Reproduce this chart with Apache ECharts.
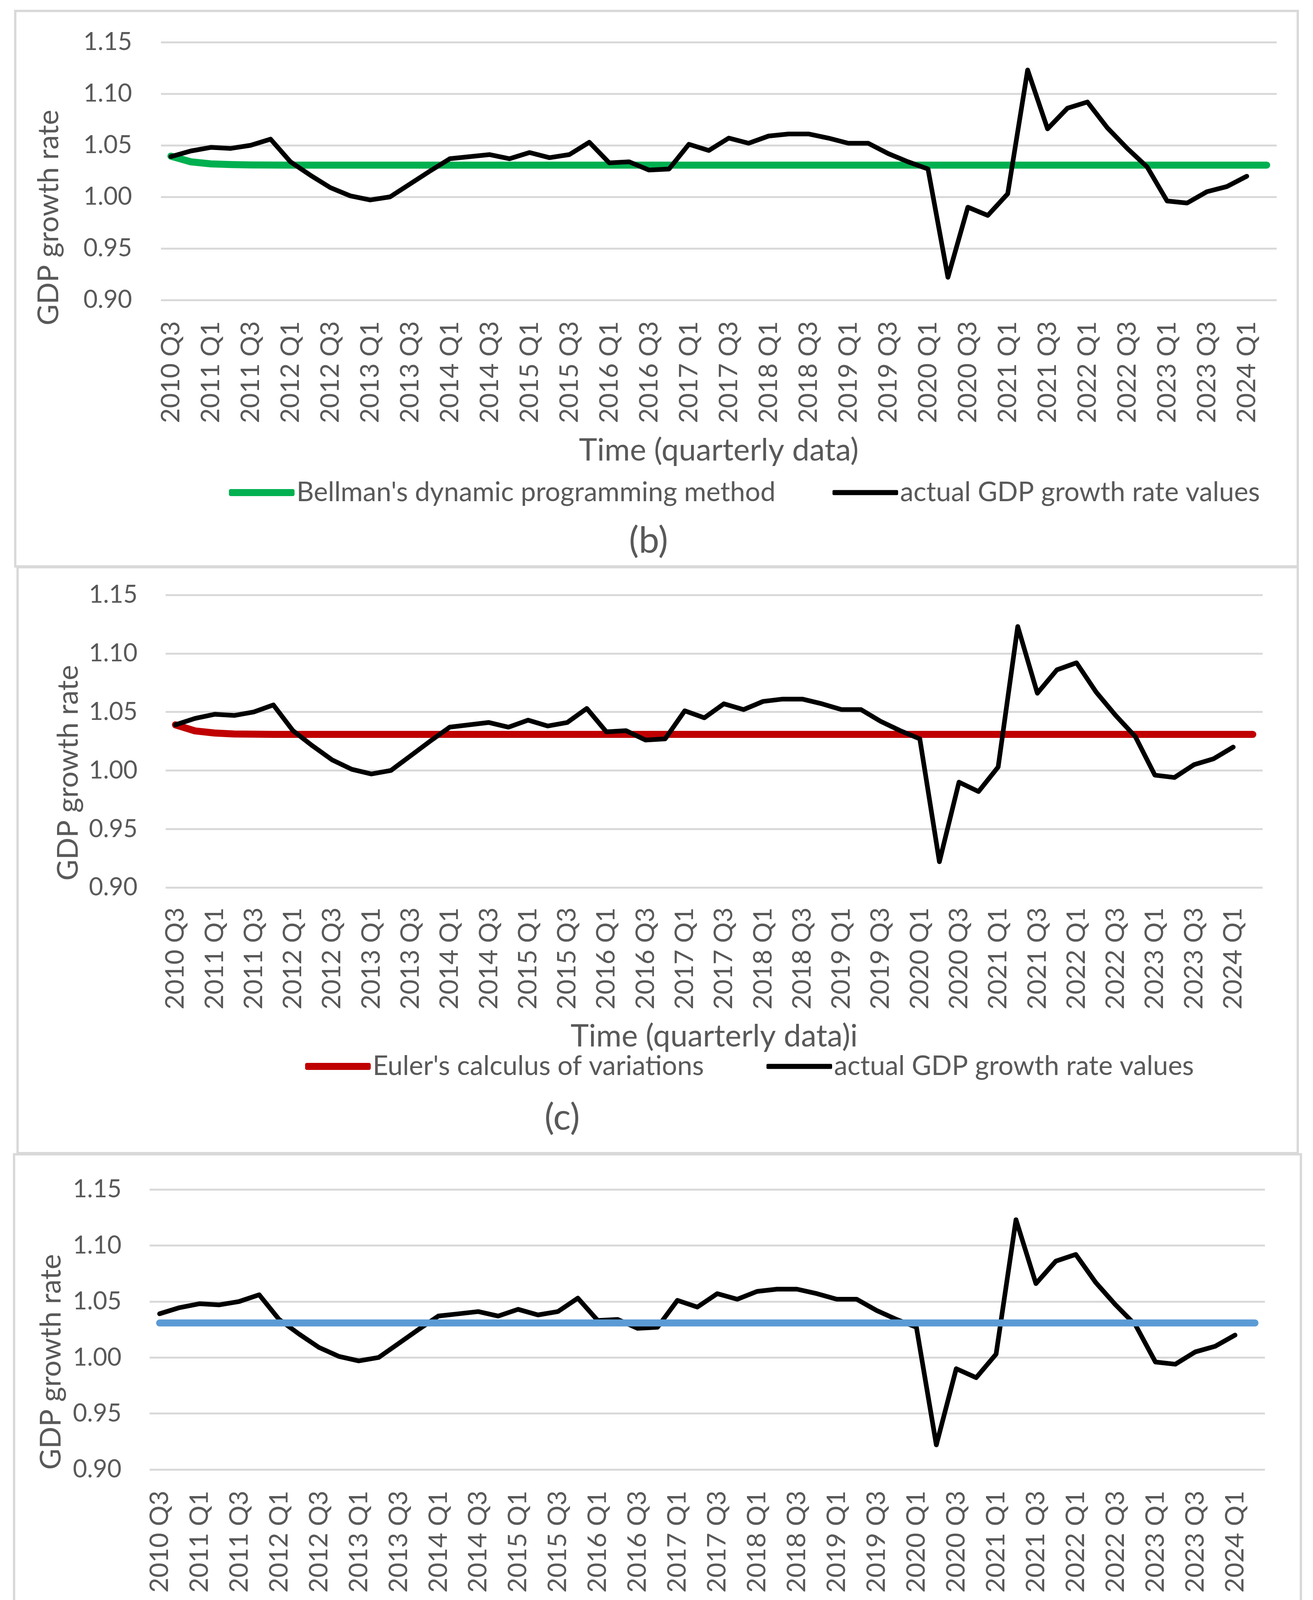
<!DOCTYPE html>
<html>
<head>
<meta charset="utf-8">
<title>GDP growth rate</title>
<script src="https://cdn.jsdelivr.net/npm/echarts@6/dist/echarts.min.js"></script>
<style>
    html, body { margin: 0; padding: 0; background: #fff; }
    #chart { width: 3361px; height: 4490px; }
</style>
</head>
<body>
<div id="chart"></div>
<script>
var quarters = [
    "2010 Q3", "2010 Q4", "2011 Q1", "2011 Q2", "2011 Q3", "2011 Q4", "2012 Q1", "2012 Q2",
    "2012 Q3", "2012 Q4", "2013 Q1", "2013 Q2", "2013 Q3", "2013 Q4", "2014 Q1", "2014 Q2",
    "2014 Q3", "2014 Q4", "2015 Q1", "2015 Q2", "2015 Q3", "2015 Q4", "2016 Q1", "2016 Q2",
    "2016 Q3", "2016 Q4", "2017 Q1", "2017 Q2", "2017 Q3", "2017 Q4", "2018 Q1", "2018 Q2",
    "2018 Q3", "2018 Q4", "2019 Q1", "2019 Q2", "2019 Q3", "2019 Q4", "2020 Q1", "2020 Q2",
    "2020 Q3", "2020 Q4", "2021 Q1", "2021 Q2", "2021 Q3", "2021 Q4", "2022 Q1", "2022 Q2",
    "2022 Q3", "2022 Q4", "2023 Q1", "2023 Q2", "2023 Q3", "2023 Q4", "2024 Q1", "2024 Q2"
];

// actual values, last quarter (2024 Q2) has no point
var actual = [
    1.039, 1.0445, 1.048, 1.047, 1.050, 1.056, 1.034, 1.021,
    1.009, 1.001, 0.997, 1.000, 1.0125, 1.025, 1.037, 1.039,
    1.041, 1.037, 1.043, 1.038, 1.041, 1.053, 1.033, 1.034,
    1.026, 1.027, 1.051, 1.045, 1.057, 1.052, 1.059, 1.061,
    1.061, 1.057, 1.052, 1.052, 1.042, 1.034, 1.027, 0.922,
    0.990, 0.982, 1.003, 1.123, 1.066, 1.086, 1.092, 1.067,
    1.047, 1.029, 0.996, 0.994, 1.005, 1.010, 1.020
];

var bellman = [
    1.0395, 1.0340, 1.0320, 1.0313, 1.0310, 1.0309, 1.0308, 1.0308,
    1.0308, 1.0308, 1.0308, 1.0308, 1.0308, 1.0308, 1.0308, 1.0308,
    1.0308, 1.0308, 1.0308, 1.0308, 1.0308, 1.0308, 1.0308, 1.0308,
    1.0308, 1.0308, 1.0308, 1.0308, 1.0308, 1.0308, 1.0308, 1.0308,
    1.0308, 1.0308, 1.0308, 1.0308, 1.0308, 1.0308, 1.0308, 1.0308,
    1.0308, 1.0308, 1.0308, 1.0308, 1.0308, 1.0308, 1.0308, 1.0308,
    1.0308, 1.0308, 1.0308, 1.0308, 1.0308, 1.0308, 1.0308, 1.0308
];

var euler = [
    1.0390, 1.0338, 1.0320, 1.0312, 1.0310, 1.0308, 1.0308, 1.0308,
    1.0308, 1.0308, 1.0308, 1.0308, 1.0308, 1.0308, 1.0308, 1.0308,
    1.0308, 1.0308, 1.0308, 1.0308, 1.0308, 1.0308, 1.0308, 1.0308,
    1.0308, 1.0308, 1.0308, 1.0308, 1.0308, 1.0308, 1.0308, 1.0308,
    1.0308, 1.0308, 1.0308, 1.0308, 1.0308, 1.0308, 1.0308, 1.0308,
    1.0308, 1.0308, 1.0308, 1.0308, 1.0308, 1.0308, 1.0308, 1.0308,
    1.0308, 1.0308, 1.0308, 1.0308, 1.0308, 1.0308, 1.0308, 1.0308
];

var target = [
    1.0308, 1.0308, 1.0308, 1.0308, 1.0308, 1.0308, 1.0308, 1.0308,
    1.0308, 1.0308, 1.0308, 1.0308, 1.0308, 1.0308, 1.0308, 1.0308,
    1.0308, 1.0308, 1.0308, 1.0308, 1.0308, 1.0308, 1.0308, 1.0308,
    1.0308, 1.0308, 1.0308, 1.0308, 1.0308, 1.0308, 1.0308, 1.0308,
    1.0308, 1.0308, 1.0308, 1.0308, 1.0308, 1.0308, 1.0308, 1.0308,
    1.0308, 1.0308, 1.0308, 1.0308, 1.0308, 1.0308, 1.0308, 1.0308,
    1.0308, 1.0308, 1.0308, 1.0308, 1.0308, 1.0308, 1.0308, 1.0308
];

var yMin = 0.90;
var yMax = 1.15;
var yStep = 0.05;

var actualName = "actual GDP growth rate values";
var bellmanName = "Bellman's dynamic programming method";
var eulerName = "Euler's calculus of variations";
var targetName = "GDP growth rate target";
var yTitle = "GDP growth rate";
var xTitles = ["Time (quarterly data)", "Time (quarterly data)i", "Time (quarterly data)"];
var captions = ["(b)", "(c)", "(d)"];

var FONT = "Lato";
var TXT = "#595959";
var GRID_LINE = "#D9D9D9";

// per panel placement
var panels = [
    { box: [39, 28, 3283, 1422], grid: { left: 412, top: 108, width: 2856, height: 660 },
      yGap: 250, yPad: 238, yLabelMargin: 74, xLabelMargin: 54, xGap: 346, caption: [1660, 1385] },
    { box: [45, 1452, 3277, 1500], grid: { left: 424, top: 1523, width: 2808, height: 749 },
      yGap: 212, yPad: 162, yLabelMargin: 72, xLabelMargin: 51, xGap: 342, caption: [1439, 2862] },
    { box: [36, 2955, 3294, 1512], grid: { left: 383, top: 3045, width: 2855, height: 717 },
      yGap: 215, yPad: 166, yLabelMargin: 72, xLabelMargin: 54, xGap: 340, caption: [1480, 4380] }
];

function lineSeries(name, data, color, width, idx) {
    return {
        name: name,
        type: "line",
        data: data,
        xAxisIndex: idx,
        yAxisIndex: idx,
        symbol: "none",
        smooth: false,
        lineStyle: { color: color, width: width, cap: "round", join: "round" },
        itemStyle: { color: color },
        silent: true
    };
}

function legendItem(name, left, top, thick) {
    return {
        data: [name],
        left: left,
        top: top,
        padding: 0,
        icon: "roundRect",
        itemWidth: 168,
        itemHeight: thick,
        itemGap: 8,
        textStyle: { fontFamily: FONT, fontSize: 69, color: TXT, lineHeight: 80 },
        selectedMode: false
    };
}

var grids = [], xAxes = [], yAxes = [], graphics = [];

panels.forEach(function(p, i) {
    grids.push(p.grid);
    xAxes.push({
        type: "category",
        gridIndex: i,
        data: quarters,
        boundaryGap: true,
        name: xTitles[i],
        nameLocation: "middle",
        nameGap: p.xGap,
        nameTextStyle: { fontFamily: FONT, fontSize: 79, color: TXT },
        axisLine: { show: false },
        axisTick: { show: false },
        axisLabel: {
            interval: 1,
            rotate: 90,
            margin: p.xLabelMargin,
            fontFamily: FONT,
            fontSize: 66,
            color: TXT
        }
    });
    yAxes.push({
        type: "value",
        gridIndex: i,
        min: yMin,
        max: yMax,
        interval: yStep,
        name: yTitle,
        nameLocation: "middle",
        nameRotate: 90,
        nameGap: p.yGap,
        nameTextStyle: { fontFamily: FONT, fontSize: 74, color: TXT, padding: [0, p.yPad, 0, 0] },
        axisLine: { show: false },
        axisTick: { show: false },
        splitLine: { lineStyle: { color: GRID_LINE, width: 5 } },
        axisLabel: {
            margin: p.yLabelMargin,
            fontFamily: FONT,
            fontSize: 63,
            color: TXT,
            formatter: function(v) { return v.toFixed(2); }
        }
    });
    graphics.push({
        type: "rect",
        shape: { x: p.box[0], y: p.box[1], width: p.box[2], height: p.box[3] },
        style: { fill: "none", stroke: GRID_LINE, lineWidth: 6 },
        silent: true
    });
    graphics.push({
        type: "text",
        x: p.caption[0],
        y: p.caption[1],
        style: {
            text: captions[i],
            fontFamily: FONT,
            fontSize: 94,
            fill: TXT,
            textAlign: "center",
            textVerticalAlign: "middle"
        },
        silent: true
    });
});

var series = [
    lineSeries(bellmanName, bellman, "#00B050", 18, 0),
    lineSeries(actualName, actual, "#000000", 12, 0),
    lineSeries(eulerName, euler, "#C00000", 18, 1),
    lineSeries(actualName, actual, "#000000", 12, 1),
    lineSeries(actualName, actual, "#000000", 12, 2),
    lineSeries(targetName, target, "#5B9BD5", 18, 2)
];

var option = {
    backgroundColor: "#ffffff",
    animation: false,
    grid: grids,
    xAxis: xAxes,
    yAxis: yAxes,
    series: series,
    legend: [
        legendItem(bellmanName, 586, 1221, 18),
        legendItem(actualName, 2131, 1221, 13),
        legendItem(eulerName, 781, 2690, 18),
        legendItem(actualName, 1962, 2690, 13),
        legendItem(actualName, 986, 4199, 13),
        legendItem(targetName, 2254, 4199, 18)
    ],
    graphic: graphics
};

var myChart = echarts.init(document.getElementById("chart"));
myChart.setOption(option);
</script>
</body>
</html>
